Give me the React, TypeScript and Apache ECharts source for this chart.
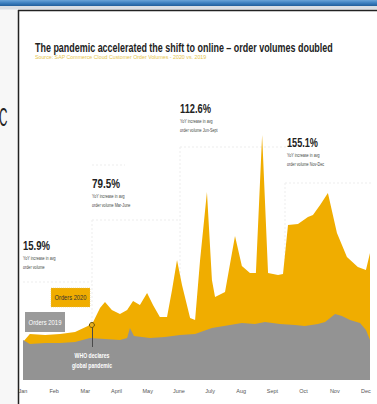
import React, { useEffect, useRef } from 'react';
import * as echarts from 'echarts';

const monthLabels = ['Jan', 'Feb', 'Mar', 'April', 'May', 'June', 'July', 'Aug', 'Sept', 'Oct', 'Nov', 'Dec'];

// position in months (0 = start of Jan) and relative order volume
const months2020 = [0, 0.22, 0.71, 1.19, 1.67, 2.08, 2.25, 2.47, 2.63, 2.85, 3.11, 3.34, 3.53, 3.75, 3.98, 4.17, 4.39, 4.62, 4.78, 4.94, 5.10, 5.36, 5.52, 5.68, 5.90, 6.06, 6.16, 6.48, 6.80, 7.02, 7.28, 7.47, 7.67, 7.86, 8.18, 8.34, 8.50, 8.82, 9.14, 9.30, 9.53, 9.78, 10.07, 10.39, 10.74, 11.00, 11.13];
const orders2020 = [38, 46, 45, 46, 48, 54, 58, 72, 78, 70, 66, 70, 79, 75, 87, 75, 63, 63, 90, 120, 95, 62, 60, 120, 188, 100, 83, 88, 144, 114, 107, 107, 245, 107, 105, 106, 155, 156, 163, 165, 175, 187, 147, 123, 113, 110, 127];

const months2019 = [0, 0.22, 0.71, 1.19, 1.67, 2.15, 2.63, 3.11, 3.34, 3.43, 3.56, 4.07, 4.55, 5.04, 5.52, 6.06, 6.64, 7.02, 7.44, 7.76, 8.24, 8.72, 9.04, 9.46, 9.69, 10.01, 10.23, 10.49, 10.81, 11.00, 11.13];
const orders2019 = [40, 36, 37, 37, 38, 42, 41, 40, 42, 52, 44, 42, 43, 45, 46, 52, 55, 57, 56, 58, 56, 55, 54, 56, 58, 66, 64, 60, 57, 50, 40];

const pctLabels = ['15.9%', '79.5%', '112.6%', '155.1%'];
const pctLine1 = ['YoY increase in avg', 'YoY increase in avg', 'YoY increase in avg', 'YoY increase in avg'];
const pctLine2 = ['order volume', 'order volume Mar-June', 'order volume Jun-Sept', 'order volume Nov-Dec'];

const whoMonth = 2.21;
const whoValue = 55;

const TITLE = 'The pandemic accelerated the shift to online \u2013 order volumes doubled';
const SOURCE = 'Source: SAP Commerce Cloud Customer Order Volumes - 2020 vs. 2019';

const YELLOW = '#f0ad00';
const GRAY = '#939393';
const FONT = '"Liberation Sans", Arial, sans-serif';

let measureCtx: CanvasRenderingContext2D | null = null;
function textWidth(text: string, size: number, weight: string) {
  if (!measureCtx) measureCtx = document.createElement('canvas').getContext('2d');
  measureCtx!.font = `${weight} ${size}px ${FONT}`;
  return measureCtx!.measureText(text).width;
}

function fitText(text: string, x: number, y: number, width: number, size: number, weight: string, fill: string, align = 'left', z = 50): any {
  const sx = width / textWidth(text, size, weight);
  return {
    type: 'text',
    x,
    y,
    scaleX: sx,
    z,
    style: {
      text,
      fontSize: size,
      fontWeight: weight,
      fontFamily: FONT,
      fill,
      align,
      verticalAlign: 'middle',
    },
  };
}

function scaledText(text: string, x: number, y: number, sx: number, size: number, weight: string, fill: string, align = 'left', z = 50): any {
  return {
    type: 'text',
    x,
    y,
    scaleX: sx,
    z,
    style: { text, fontSize: size, fontWeight: weight, fontFamily: FONT, fill, align, verticalAlign: 'middle' },
  };
}

function faint(x1: number, y1: number, x2: number, y2: number): any {
  return {
    type: 'line',
    z: 1,
    shape: { x1, y1, x2, y2 },
    style: { stroke: '#ededed', lineWidth: 1, lineDash: [2, 2] },
  };
}

export default function App() {
  const ref = useRef<HTMLDivElement>(null);

  useEffect(() => {
    if (!ref.current) return;
    const chart = echarts.init(ref.current, null, { renderer: 'svg' });

    const subScale = 0.62;
    const annPos = [
      { x: 23, y: 245, w: 27 },
      { x: 92, y: 183, w: 28 },
      { x: 180, y: 108, w: 31 },
      { x: 287, y: 142, w: 31 },
    ];
    const annGraphics: any[] = [];
    pctLabels.forEach((p, i) => {
      const a = annPos[i];
      annGraphics.push(fitText(p, a.x, a.y, a.w, 13, 'bold', '#222'));
      annGraphics.push(scaledText(pctLine1[i], a.x, a.y + 13, subScale, 6, 'normal', '#444'));
      annGraphics.push(scaledText(pctLine2[i], a.x, a.y + 22, subScale, 6, 'normal', '#444'));
    });

    const graphic: any[] = [
      // page background outside the slide
      { type: 'rect', z: 0, shape: { x: 0, y: 0, width: 18, height: 404 }, style: { fill: '#f7f7f7' } },
      scaledText('C', -1, 117, 0.45, 26, 'normal', '#222', 'left', 60),
      // top bar
      {
        type: 'rect', z: 60, shape: { x: 0, y: 0, width: 377, height: 6 },
        style: {
          fill: new echarts.graphic.LinearGradient(0, 0, 0, 1, [
            { offset: 0, color: '#6aa4d8' },
            { offset: 0.5, color: '#3c7fc0' },
            { offset: 1, color: '#215f9c' },
          ]),
        },
      },
      { type: 'rect', z: 60, shape: { x: 0, y: 6, width: 377, height: 3.5 }, style: { fill: '#d9dee4' } },
      { type: 'line', z: 60, shape: { x1: 18, y1: 10.5, x2: 377, y2: 10.5 }, style: { stroke: '#222', lineWidth: 1.5 } },
      { type: 'line', z: 60, shape: { x1: 18.5, y1: 10, x2: 18.5, y2: 404 }, style: { stroke: '#222', lineWidth: 1.5 } },
      // title and source
      fitText(TITLE, 35, 47, 298, 12, 'bold', '#222'),
      fitText(SOURCE, 35, 57, 172, 5, 'normal', '#e6c44a'),
      // faint annotation frames
      faint(92, 165, 125, 165),
      faint(92, 220, 180, 220),
      faint(92, 220, 92, 322),
      faint(180, 147, 287, 147),
      faint(180, 147, 180, 300),
      faint(285, 183, 373, 183),
      faint(285, 183, 285, 260),
      faint(23, 282, 92, 282),
      ...annGraphics,
      // legend boxes
      { type: 'rect', z: 50, shape: { x: 51, y: 288, width: 39, height: 19 }, style: { fill: YELLOW, stroke: '#e0c060', lineWidth: 0.5, lineDash: [1, 1] } },
      fitText('Orders 2020', 70.5, 297.5, 32, 7, 'normal', '#333', 'center', 51),
      { type: 'rect', z: 50, shape: { x: 25, y: 312, width: 40, height: 20 }, style: { fill: '#9a9a9a' } },
      fitText('Orders 2019', 45, 322, 33, 7, 'normal', '#ffffff', 'center', 51),
      // WHO note
      fitText('WHO declares', 92, 355, 35, 7, 'bold', '#ffffff', 'center', 51),
      fitText('global pandemic', 92, 365, 40, 7, 'bold', '#ffffff', 'center', 51),
    ];

    chart.setOption({
      animation: false,
      backgroundColor: '#ffffff',
      grid: { left: 23, right: 7, top: 80, bottom: 24 },
      xAxis: {
        type: 'value',
        min: 0,
        max: 11.13,
        interval: 1,
        axisLine: { show: false },
        axisTick: { show: false },
        splitLine: { show: false },
        axisLabel: {
          color: '#555',
          fontSize: 5.5,
          fontFamily: FONT,
          margin: 8,
          showMaxLabel: false,
          formatter: (v: number) => (Number.isInteger(v) && monthLabels[v] ? monthLabels[v] : ''),
        },
      },
      yAxis: { type: 'value', min: 0, max: 300, show: false },
      series: [
        {
          name: 'Orders 2020',
          type: 'line',
          showSymbol: false,
          silent: true,
          lineStyle: { width: 0 },
          areaStyle: { color: YELLOW, opacity: 1 },
          data: months2020.map((m, i) => [m, orders2020[i]]),
          z: 2,
        },
        {
          name: 'Orders 2019',
          type: 'line',
          showSymbol: false,
          silent: true,
          lineStyle: { width: 0 },
          areaStyle: { color: GRAY, opacity: 1 },
          data: months2019.map((m, i) => [m, orders2019[i]]),
          z: 3,
          markLine: {
            silent: true,
            symbol: 'none',
            label: { show: false },
            lineStyle: { color: '#4a4a4a', width: 1, type: 'solid' },
            data: [[{ coord: [whoMonth, 33] }, { coord: [whoMonth, whoValue - 2] }]],
          },
          markPoint: {
            silent: true,
            symbol: 'circle',
            symbolSize: 5,
            label: { show: false },
            itemStyle: { color: '#e8b020', borderColor: '#6b5200', borderWidth: 1 },
            data: [{ coord: [whoMonth, whoValue] }],
          },
        },
      ],
      graphic,
    });

    return () => chart.dispose();
  }, []);

  return <div ref={ref} style={{ position: 'fixed', left: 0, top: 0, width: 377, height: 404 }} />;
}
